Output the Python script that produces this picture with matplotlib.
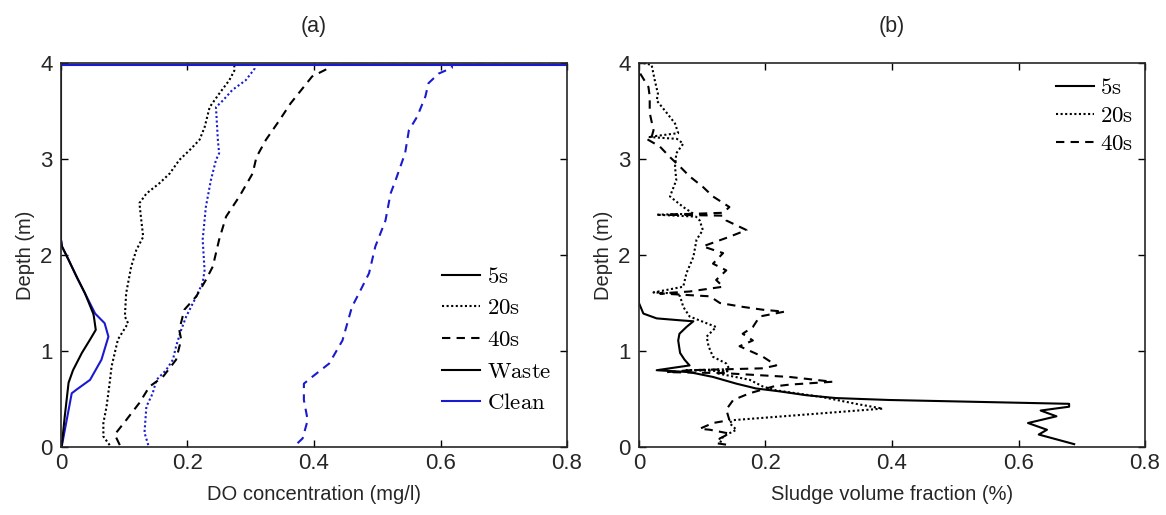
import numpy as np
import matplotlib.pyplot as plt
from matplotlib.lines import Line2D

plt.rcParams['font.family'] = ['Liberation Sans', 'DejaVu Sans']
plt.rcParams['mathtext.fontset'] = 'cm'

# ---- (a) dissolved oxygen profiles: depth (m) vs DO (mg/l) ----
# the surface cell sits near saturation, so every profile runs off the right edge at the top
surf_depth = 3.98
surf_do = 9.0

waste5_depth = [0.0, 0.32, 0.67, 0.80, 0.98, 1.12, 1.22, 1.36, 1.39, 1.60, 1.77, 1.95, 2.09, 2.16]
waste5_do = [0.001, 0.006, 0.012, 0.019, 0.033, 0.046, 0.055, 0.052, 0.051, 0.038, 0.025, 0.012, 0.0015, 0.0]

clean5_depth = [0.0, 0.56, 0.60, 0.70, 0.91, 1.15, 1.29, 1.39, 1.60, 1.77, 1.95, 2.09, 2.16]
clean5_do = [0.001, 0.017, 0.025, 0.046, 0.064, 0.075, 0.069, 0.054, 0.038, 0.025, 0.012, 0.0015, 0.0]

waste20_depth = [0.02, 0.11, 0.25, 0.42, 0.67, 0.84, 1.12, 1.29, 1.36, 1.60, 1.88, 2.05, 2.19, 2.36,
                 2.54, 2.64, 2.75, 2.85, 2.99, 3.09, 3.20, 3.33, 3.54, 3.68, 3.82, 3.92]
waste20_do = [0.077, 0.067, 0.067, 0.072, 0.077, 0.080, 0.090, 0.106, 0.101, 0.103, 0.111, 0.119, 0.130, 0.127,
              0.124, 0.135, 0.156, 0.172, 0.187, 0.203, 0.219, 0.227, 0.235, 0.250, 0.266, 0.274]

clean20_depth = [0.02, 0.15, 0.42, 0.56, 0.70, 0.80, 0.91, 1.05, 1.22, 1.36, 1.53, 1.71, 1.84, 2.16,
                 2.50, 2.78, 2.99, 3.06, 3.20, 3.54, 3.61, 3.72, 3.82, 3.94]
clean20_do = [0.138, 0.132, 0.135, 0.145, 0.151, 0.166, 0.177, 0.182, 0.190, 0.198, 0.211, 0.224, 0.227, 0.224,
              0.229, 0.237, 0.245, 0.250, 0.248, 0.245, 0.256, 0.271, 0.292, 0.306]

waste40_depth = [0.02, 0.13, 0.28, 0.46, 0.63, 0.73, 0.91, 1.12, 1.22, 1.43, 1.57, 1.74, 1.88, 2.16,
                 2.40, 2.61, 2.85, 3.02, 3.20, 3.40, 3.58, 3.86, 3.95]
waste40_do = [0.093, 0.085, 0.103, 0.124, 0.140, 0.161, 0.182, 0.190, 0.187, 0.195, 0.214, 0.229, 0.240, 0.250,
              0.261, 0.282, 0.303, 0.309, 0.324, 0.345, 0.363, 0.397, 0.424]

clean40_depth = [0.04, 0.09, 0.28, 0.49, 0.66, 0.73, 0.87, 1.11, 1.46, 1.60, 1.81, 2.09, 2.36, 2.64,
                 2.78, 3.06, 3.30, 3.44, 3.65, 3.79, 3.89, 3.95]
clean40_do = [0.374, 0.382, 0.390, 0.384, 0.384, 0.397, 0.424, 0.445, 0.460, 0.471, 0.487, 0.497, 0.513, 0.521,
              0.529, 0.544, 0.550, 0.563, 0.576, 0.581, 0.597, 0.618]

# ---- (b) sludge volume fraction (%) vs depth (m) ----
sludge5_depth = [4.0, 1.50, 1.39, 1.34, 1.32, 1.31, 1.25, 1.18, 1.11, 0.98, 0.91, 0.85, 0.80, 0.78,
                 0.73, 0.66, 0.61, 0.58, 0.54, 0.51, 0.49, 0.45, 0.42, 0.38, 0.32, 0.25, 0.18, 0.13, 0.03]
sludge5_frac = [0.0, 0.0, 0.007, 0.028, 0.065, 0.086, 0.075, 0.064, 0.062, 0.065, 0.072, 0.080, 0.028, 0.080,
                0.117, 0.154, 0.185, 0.222, 0.264, 0.311, 0.395, 0.680, 0.680, 0.635, 0.660, 0.615, 0.645, 0.632, 0.688]

sludge20_depth = [4.0, 3.98, 3.82, 3.68, 3.61, 3.48, 3.37, 3.27, 3.23, 3.21, 3.16, 3.06, 2.92, 2.78,
                  2.61, 2.50, 2.43, 2.42, 2.40, 2.36, 2.26, 2.16, 1.98, 1.81, 1.67, 1.61, 1.60, 1.57,
                  1.46, 1.36, 1.25, 1.15, 1.05, 0.94, 0.87, 0.81, 0.80, 0.79, 0.77, 0.70, 0.63, 0.59,
                  0.52, 0.45, 0.40, 0.28, 0.25, 0.18, 0.11, 0.04]
sludge20_frac = [0.007, 0.020, 0.025, 0.030, 0.028, 0.044, 0.057, 0.062, 0.015, 0.060, 0.070, 0.059, 0.057, 0.059,
                 0.049, 0.070, 0.086, 0.028, 0.090, 0.096, 0.101, 0.091, 0.086, 0.075, 0.070, 0.023, 0.060, 0.065,
                 0.070, 0.080, 0.122, 0.107, 0.110, 0.117, 0.138, 0.143, 0.075, 0.140, 0.122, 0.175, 0.196, 0.217,
                 0.290, 0.343, 0.385, 0.149, 0.143, 0.154, 0.133, 0.128]

sludge40_depth = [3.89, 3.75, 3.65, 3.48, 3.30, 3.23, 3.21, 3.13, 3.02, 2.92, 2.82, 2.71, 2.61, 2.50,
                  2.44, 2.42, 2.41, 2.36, 2.26, 2.19, 2.09, 2.02, 1.91, 1.84, 1.74, 1.67, 1.62, 1.60,
                  1.57, 1.50, 1.46, 1.43, 1.41, 1.36, 1.25, 1.18, 1.11, 1.05, 0.94, 0.85, 0.82, 0.80,
                  0.78, 0.77, 0.73, 0.68, 0.65, 0.63, 0.56, 0.49, 0.39, 0.28, 0.25, 0.19, 0.18, 0.14,
                  0.09, 0.04, 0.02]
sludge40_frac = [0.002, 0.015, 0.017, 0.017, 0.023, 0.020, 0.012, 0.033, 0.049, 0.065, 0.080, 0.101, 0.117, 0.143,
                 0.133, 0.044, 0.133, 0.138, 0.170, 0.143, 0.101, 0.133, 0.117, 0.138, 0.122, 0.133, 0.080, 0.033,
                 0.112, 0.128, 0.164, 0.196, 0.230, 0.191, 0.180, 0.164, 0.180, 0.159, 0.196, 0.217, 0.196, 0.080,
                 0.044, 0.133, 0.238, 0.306, 0.238, 0.212, 0.175, 0.149, 0.138, 0.143, 0.117, 0.096, 0.112, 0.143,
                 0.128, 0.122, 0.143]

blue = '#1a1ad0'
ink = '#262626'
lw = 1.5

fig = plt.figure(figsize=(11.66, 5.15), dpi=100)
ax1 = fig.add_axes([0.0523, 0.132, 0.4340, 0.7456])
ax2 = fig.add_axes([0.5480, 0.132, 0.4340, 0.7456])


def with_surface(depth, do):
    # close the profile at the surface, where DO jumps to saturation
    return list(do) + [do[-1], surf_do], list(depth) + [surf_depth, surf_depth]


dotted = (0, (1, 1.2))
dashed = (0, (4, 3))

x, y = with_surface(clean5_depth, clean5_do)
ax1.plot(x, y, color=blue, lw=lw)
x, y = with_surface(waste5_depth, waste5_do)
ax1.plot(x, y, color='k', lw=lw)
x, y = with_surface(waste20_depth, waste20_do)
ax1.plot(x, y, color='k', lw=lw, ls=dotted)
x, y = with_surface(clean20_depth, clean20_do)
ax1.plot(x, y, color=blue, lw=lw, ls=dotted)
x, y = with_surface(waste40_depth, waste40_do)
ax1.plot(x, y, color='k', lw=lw, ls=dashed)
x, y = with_surface(clean40_depth, clean40_do)
ax1.plot(x, y, color=blue, lw=lw, ls=dashed)
ax1.plot([0, surf_do], [surf_depth, surf_depth], color=blue, lw=lw)

ax2.plot(sludge5_frac, sludge5_depth, color='k', lw=lw)
ax2.plot(sludge20_frac, sludge20_depth, color='k', lw=lw, ls=dotted)
ax2.plot(sludge40_frac, sludge40_depth, color='k', lw=lw, ls=dashed)

legend_font = {'size': 16.5}
h_a = [Line2D([], [], color='k', lw=lw),
       Line2D([], [], color='k', lw=lw, ls=dotted),
       Line2D([], [], color='k', lw=lw, ls=dashed),
       Line2D([], [], color='k', lw=lw),
       Line2D([], [], color=blue, lw=lw)]
labels_a = [r'$\mathrm{5s}$', r'$\mathrm{20s}$', r'$\mathrm{40s}$', r'$\mathrm{Waste}$', r'$\mathrm{Clean}$']
ax1.legend(h_a, labels_a, loc='lower right', frameon=False, prop=legend_font,
           handlelength=1.65, handletextpad=0.3, labelspacing=0.38, borderpad=0,
           bbox_to_anchor=(0.992, 0.055))

h_b = h_a[:3]
ax2.legend(h_b, labels_a[:3], loc='upper right', frameon=False, prop=legend_font,
           handlelength=1.65, handletextpad=0.3, labelspacing=0.2, borderpad=0,
           bbox_to_anchor=(1.0, 0.995))

for ax, xlabel, title in [(ax1, 'DO concentration (mg/l)', '(a)'),
                          (ax2, 'Sludge volume fraction (%)', '(b)')]:
    ax.set_xlim(0, 0.8)
    ax.set_ylim(0, 4)
    ax.set_xticks([0, 0.2, 0.4, 0.6, 0.8])
    ax.set_xticklabels(['0', '0.2', '0.4', '0.6', '0.8'])
    ax.set_yticks([0, 1, 2, 3, 4])
    ax.tick_params(direction='in', top=True, right=True, length=5, width=1,
                   labelsize=16, labelcolor=ink)
    ax.tick_params(axis='x', pad=4)
    ax.tick_params(axis='y', pad=6)
    ax.set_xlabel(xlabel, fontsize=14.5, color=ink, labelpad=8)
    ax.set_ylabel('Depth (m)', fontsize=14.5, color=ink, labelpad=4)
    ax.set_title(title, fontsize=15.5, color=ink, pad=22)
    for sp in ax.spines.values():
        sp.set_linewidth(1.2)
        sp.set_color(ink)

fig.savefig('out.png', dpi=100)
